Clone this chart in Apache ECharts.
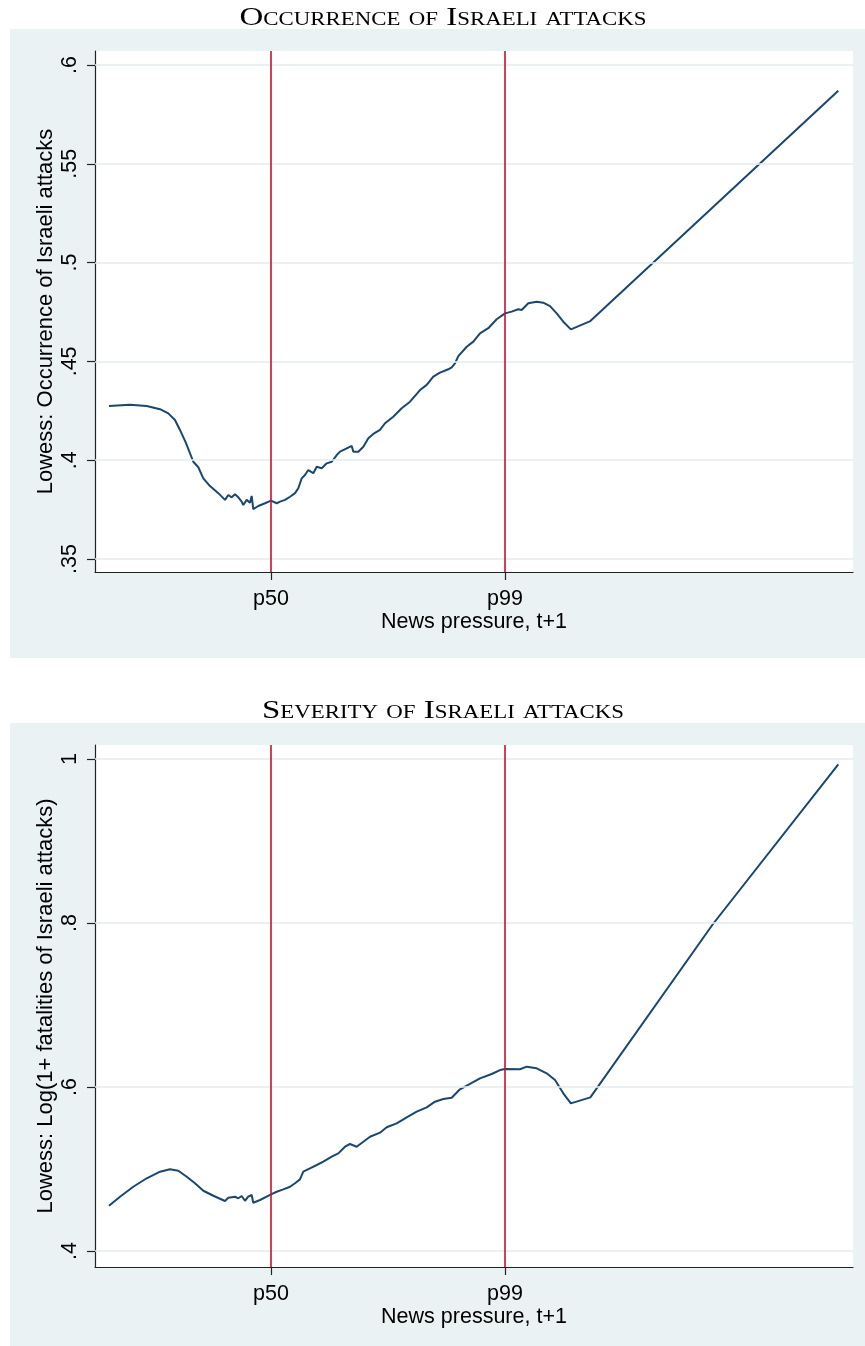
<!DOCTYPE html>
<html>
<head>
<meta charset="utf-8">
<script src="https://cdn.jsdelivr.net/npm/echarts@6/dist/echarts.min.js"></script>
<style>
  html, body { margin: 0; padding: 0; background: #fff; }
  #chart { width: 865px; height: 1346px; }
</style>
</head>
<body>
<div id="chart"></div>
<script>
// News pressure is shown on a rescaled 0-100 index; only its percentiles are labelled.
const xRange = [0, 100];
const percentileMarks = [23.22, 54.09];
const percentileLabels = ['p50', 'p99'];

// Lowess fit: occurrence of Israeli attacks
const occurrenceX = [1.85, 4.62, 6.82, 8.58, 9.67, 10.55, 11.21, 12.01, 12.97, 13.63, 14.29, 15.17, 16.27, 17.15,
  17.59, 18.03, 18.47, 18.91, 19.35, 19.56, 20.01, 20.45, 20.67, 20.88, 21.54, 22.43, 23.22, 23.97, 24.41, 25.07,
  25.73, 26.39, 26.82, 27.27, 27.70, 28.14, 28.80, 29.25, 29.91, 30.57, 31.23, 31.89, 32.32, 33.21, 33.87, 34.08,
  34.74, 35.40, 36.06, 36.71, 37.60, 38.26, 39.35, 40.46, 41.56, 42.88, 43.76, 44.63, 45.51, 46.61, 47.06, 47.49,
  47.93, 49.04, 49.91, 50.79, 51.89, 52.99, 54.09, 54.97, 55.84, 56.29, 57.16, 58.27, 59.14, 60.03, 60.91, 61.78,
  62.78, 65.35, 98.06];
const occurrenceY = [0.4274, 0.4281, 0.4274, 0.4258, 0.4237, 0.4203, 0.4153, 0.4086, 0.3992, 0.3964, 0.3908, 0.3869, 0.3833, 0.3799,
  0.3824, 0.3812, 0.3827, 0.3812, 0.3790, 0.3773, 0.3799, 0.3785, 0.3819, 0.3752, 0.3768, 0.3782, 0.3795, 0.3782, 0.3790, 0.3799,
  0.3815, 0.3833, 0.3858, 0.3908, 0.3925, 0.3950, 0.3934, 0.3967, 0.3959, 0.3984, 0.3992, 0.4026, 0.4043, 0.4060, 0.4072, 0.4043,
  0.4043, 0.4068, 0.4111, 0.4133, 0.4153, 0.4187, 0.4220, 0.4263, 0.4296, 0.4355, 0.4381, 0.4423, 0.4443, 0.4460, 0.4470, 0.4490,
  0.4527, 0.4574, 0.4600, 0.4642, 0.4668, 0.4713, 0.4743, 0.4752, 0.4764, 0.4760, 0.4794, 0.4802, 0.4797, 0.4780, 0.4743, 0.4701,
  0.4662, 0.4704, 0.5870];

// Lowess fit: log(1 + fatalities of Israeli attacks)
const severityX = [1.85, 3.30, 5.05, 6.82, 8.58, 9.89, 10.99, 12.10, 13.19, 14.29, 15.61, 17.15, 17.59, 18.47,
  18.91, 19.35, 19.79, 20.22, 20.67, 20.88, 21.77, 23.22, 23.97, 24.84, 25.73, 26.39, 27.04, 27.48, 28.36, 29.25,
  30.12, 31.23, 32.10, 32.98, 33.64, 34.52, 35.40, 36.28, 37.60, 38.48, 39.80, 41.12, 42.44, 43.76, 44.85, 45.95,
  47.06, 48.15, 49.47, 50.79, 52.33, 53.43, 54.09, 56.07, 56.95, 58.27, 59.59, 60.69, 61.78, 62.78, 65.35, 81.53,
  98.06];
const severityY = [0.4552, 0.4662, 0.4784, 0.4887, 0.4967, 0.4996, 0.4979, 0.4906, 0.4826, 0.4735, 0.4674, 0.4610, 0.4650, 0.4662,
  0.4643, 0.4671, 0.4613, 0.4662, 0.4683, 0.4589, 0.4622, 0.4691, 0.4723, 0.4752, 0.4784, 0.4826, 0.4874, 0.4967, 0.5009, 0.5049,
  0.5089, 0.5150, 0.5191, 0.5272, 0.5305, 0.5272, 0.5333, 0.5394, 0.5443, 0.5509, 0.5557, 0.5630, 0.5699, 0.5752, 0.5821, 0.5854,
  0.5870, 0.5972, 0.6037, 0.6106, 0.6159, 0.6207, 0.6220, 0.6216, 0.6248, 0.6228, 0.6167, 0.6085, 0.5923, 0.5801, 0.5874, 0.7988,
  0.9935];

const occurrenceTicks = [0.35, 0.4, 0.45, 0.5, 0.55, 0.6];
const severityTicks = [0.4, 0.6, 0.8, 1];
const occurrenceRange = [0.3434, 0.6071];
const severityRange = [0.3805, 1.0171];

const panelTitles = ['Occurrence of Israeli attacks', 'Severity of Israeli attacks'];
const yTitles = ['Lowess: Occurrence of Israeli attacks', 'Lowess: Log(1+ fatalities of Israeli attacks)'];
const xTitle = 'News pressure, t+1';

const NAVY = '#1A476F';
const CRIMSON = '#C8102E';
const PANEL_BG = '#EAF2F3';
const GRID_LINE = '#E4ECEE';
const SANS = '"Liberation Sans", Arial, Helvetica, sans-serif';
const SERIF = '"Liberation Serif", "Times New Roman", serif';

const pairs = (xs, ys) => xs.map((x, i) => [x, ys[i]]);
const tickText = v => String(v).replace(/^0\./, '.');

function xAxisFor(gridIndex) {
  return {
    type: 'value', gridIndex, min: xRange[0], max: xRange[1],
    name: xTitle, nameLocation: 'middle', nameGap: 37,
    nameTextStyle: { fontFamily: SANS, fontSize: 21.5, color: '#000' },
    axisLine: { show: true, onZero: false, lineStyle: { color: '#222', width: 1.2 } },
    axisTick: { show: true, length: 8, customValues: percentileMarks, lineStyle: { color: '#222', width: 1.2 } },
    axisLabel: {
      show: true, margin: 16, customValues: percentileMarks,
      fontFamily: SANS, fontSize: 21.5, color: '#000',
      formatter: v => percentileLabels[percentileMarks.indexOf(v)] || ''
    },
    splitLine: { show: false }
  };
}

function yAxisFor(gridIndex, range, ticks, title) {
  return {
    type: 'value', gridIndex, min: range[0], max: range[1],
    name: title, nameLocation: 'middle', nameGap: 38, nameRotate: 90, nameMoveOverlap: false,
    nameTextStyle: { fontFamily: SANS, fontSize: 22, color: '#000' },
    axisLine: { show: true, onZero: false, lineStyle: { color: '#222', width: 1.2 } },
    axisTick: { show: true, length: 8, customValues: ticks, lineStyle: { color: '#222', width: 1.2 } },
    axisLabel: {
      show: true, rotate: 90, margin: 14, customValues: ticks,
      fontFamily: SANS, fontSize: 21.5, color: '#000',
      formatter: v => tickText(v)
    },
    splitLine: { show: false }
  };
}

function panelSeries(index, data, ticks) {
  return [
    {
      // horizontal grid lines at the labelled values
      type: 'line', xAxisIndex: index, yAxisIndex: index, data: [], z: 1, silent: true,
      markLine: {
        silent: true, symbol: 'none', label: { show: false }, animation: false,
        lineStyle: { color: GRID_LINE, width: 1.6, type: 'solid' },
        emphasis: { disabled: true },
        data: ticks.map(v => ({ yAxis: v }))
      }
    },
    {
      type: 'line', xAxisIndex: index, yAxisIndex: index, data, z: 2,
      showSymbol: false, symbol: 'none', smooth: false, silent: true,
      lineStyle: { color: NAVY, width: 2 },
      emphasis: { disabled: true }
    },
    {
      // median and 99th percentile of news pressure
      type: 'line', xAxisIndex: index, yAxisIndex: index, data: [], z: 3, silent: true,
      markLine: {
        silent: true, symbol: 'none', label: { show: false }, animation: false,
        lineStyle: { color: CRIMSON, width: 1.6, type: 'solid' },
        emphasis: { disabled: true },
        data: percentileMarks.map(v => ({ xAxis: v }))
      }
    }
  ];
}

// Panel headings: serif small caps, set a little wider than the face's natural width
function heading(text, y) {
  return {
    type: 'text', x: 443, y, scaleX: 1.27, silent: true, z: 10,
    style: {
      text, fill: '#000', align: 'center', verticalAlign: 'middle',
      font: 'small-caps normal 26px ' + SERIF
    }
  };
}

const chart = echarts.init(document.getElementById('chart'), null, { renderer: 'canvas' });

chart.setOption({
  animation: false,
  backgroundColor: '#fff',
  graphic: [
    { type: 'rect', z: -10, silent: true, shape: { x: 10, y: 29, width: 855, height: 629 }, style: { fill: PANEL_BG } },
    { type: 'rect', z: -10, silent: true, shape: { x: 10, y: 723, width: 855, height: 623 }, style: { fill: PANEL_BG } },
    heading(panelTitles[0], 18),
    heading(panelTitles[1], 711)
  ],
  grid: [
    { left: 95, top: 51, width: 758, height: 521, show: true, backgroundColor: '#fff', borderWidth: 0, outerBoundsMode: 'none', containLabel: false },
    { left: 95, top: 745, width: 758, height: 522, show: true, backgroundColor: '#fff', borderWidth: 0, outerBoundsMode: 'none', containLabel: false }
  ],
  xAxis: [xAxisFor(0), xAxisFor(1)],
  yAxis: [
    yAxisFor(0, occurrenceRange, occurrenceTicks, yTitles[0]),
    yAxisFor(1, severityRange, severityTicks, yTitles[1])
  ],
  series: [
    ...panelSeries(0, pairs(occurrenceX, occurrenceY), occurrenceTicks),
    ...panelSeries(1, pairs(severityX, severityY), severityTicks)
  ]
});
</script>
</body>
</html>
